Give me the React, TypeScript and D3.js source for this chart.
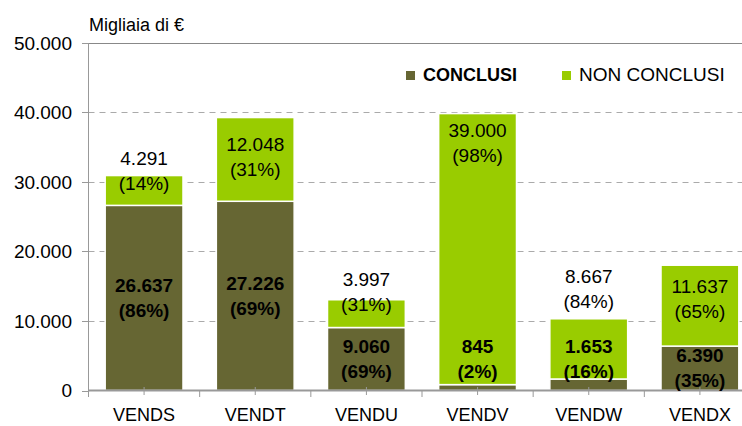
import * as d3 from "d3"

const vendors = ["VENDS", "VENDT", "VENDU", "VENDV", "VENDW", "VENDX"]
const concluded = [26637, 27226, 9060, 845, 1653, 6390]
const notConcluded = [4291, 12048, 3997, 39000, 8667, 11637]
const concludedPct = ["86%", "69%", "69%", "2%", "16%", "35%"]
const notConcludedPct = ["14%", "31%", "31%", "98%", "84%", "65%"]
const yTicks = [0, 10000, 20000, 30000, 40000, 50000]
// where the value labels sit, in chart units (first line baseline)
const concludedLabelAt = [14200, 14400, 5400, 5400, 5400, 4100]
const notConcludedLabelAt = [32400, 34400, 15000, 36500, 15500, 14100]

const W = 742
const H = 426
const DARK = "#666633"
const GREEN = "#99cc00"
const FONT = "'Liberation Sans', Arial, sans-serif"

const fmt = (v: number) => d3.format(",")(v).replace(/,/g, ".")

export default function App() {
  const x = d3
    .scaleBand()
    .domain(vendors)
    .range([88.5, 755.5])
    .paddingInner(0.3)
    .paddingOuter(0.15)
  const y = d3.scaleLinear().domain([0, 50000]).range([390.5, 43])
  const step = x.step()
  const bw = x.bandwidth()

  return (
    <svg
      width={W}
      height={H}
      style={{ position: "absolute", left: 0, top: 0, fontFamily: FONT }}
    >
      <rect width={W} height={H} fill="#fff" />
      <text x={89} y={31} fontSize={18} fill="#000">
        Migliaia di €
      </text>

      {/* grid lines */}
      {yTicks.slice(1).map((t) => (
        <line
          key={t}
          x1={88.5}
          x2={W}
          y1={Math.round(y(t)) + 0.5}
          y2={Math.round(y(t)) + 0.5}
          stroke={t === 50000 ? "#888" : "#aaa"}
          strokeWidth={1}
          strokeDasharray={t === 50000 ? undefined : "6,5"}
        />
      ))}

      {/* y axis */}
      <line x1={88.5} x2={88.5} y1={43} y2={391} stroke="#999" />
      {yTicks.map((t) => (
        <g key={t}>
          <line x1={82} x2={88.5} y1={Math.round(y(t)) + 0.5} y2={Math.round(y(t)) + 0.5} stroke="#999" />
          <text
            x={72}
            y={y(t)}
            dy="0.36em"
            textAnchor="end"
            fontSize={19}
            fill="#000"
          >
            {fmt(t)}
          </text>
        </g>
      ))}

      {/* bars */}
      {vendors.map((v, i) => {
        const x0 = x(v) as number
        const yC = y(concluded[i])
        const yT = y(concluded[i] + notConcluded[i])
        return (
          <g key={v}>
            <rect
              x={x0}
              y={yC}
              width={bw}
              height={y(0) - yC}
              fill={DARK}
              stroke="#fff"
              strokeWidth={1.5}
            />
            <rect
              x={x0}
              y={yT}
              width={bw}
              height={yC - yT}
              fill={GREEN}
              stroke="#fff"
              strokeWidth={1.5}
            />
          </g>
        )
      })}

      {/* x axis */}
      <line x1={88} x2={W} y1={390.5} y2={390.5} stroke="#999" strokeWidth={2} />
      {d3.range(vendors.length + 1).map((k) => (
        <line
          key={"b" + k}
          x1={88.5 + k * step}
          x2={88.5 + k * step}
          y1={390}
          y2={397}
          stroke="#999"
        />
      ))}
      {vendors.map((v) => {
        const cx = (x(v) as number) + bw / 2
        return (
          <g key={"t" + v}>
            <line x1={cx} x2={cx} y1={387} y2={395} stroke="#999" />
            <text x={cx} y={421} textAnchor="middle" fontSize={18} fill="#000">
              {v}
            </text>
          </g>
        )
      })}

      {/* value labels */}
      {vendors.map((v, i) => {
        const cx = (x(v) as number) + bw / 2
        const yc = y(concludedLabelAt[i])
        const yn = y(notConcludedLabelAt[i])
        return (
          <g key={"l" + v} textAnchor="middle" fill="#000">
            <text x={cx} y={yn} fontSize={19}>
              {fmt(notConcluded[i])}
            </text>
            <text x={cx} y={yn + 25} fontSize={19}>
              ({notConcludedPct[i]})
            </text>
            <text x={cx} y={yc} fontSize={19} fontWeight="bold">
              {fmt(concluded[i])}
            </text>
            <text x={cx} y={yc + 25} fontSize={19} fontWeight="bold">
              ({concludedPct[i]})
            </text>
          </g>
        )
      })}

      {/* legend */}
      <rect x={406} y={71} width={9} height={9} fill={DARK} />
      <text x={423} y={81} fontSize={18} fontWeight="bold" fill="#000">
        CONCLUSI
      </text>
      <rect x={562} y={71} width={9} height={9} fill={GREEN} />
      <text x={579} y={81} fontSize={19} fill="#000">
        NON CONCLUSI
      </text>
    </svg>
  )
}
